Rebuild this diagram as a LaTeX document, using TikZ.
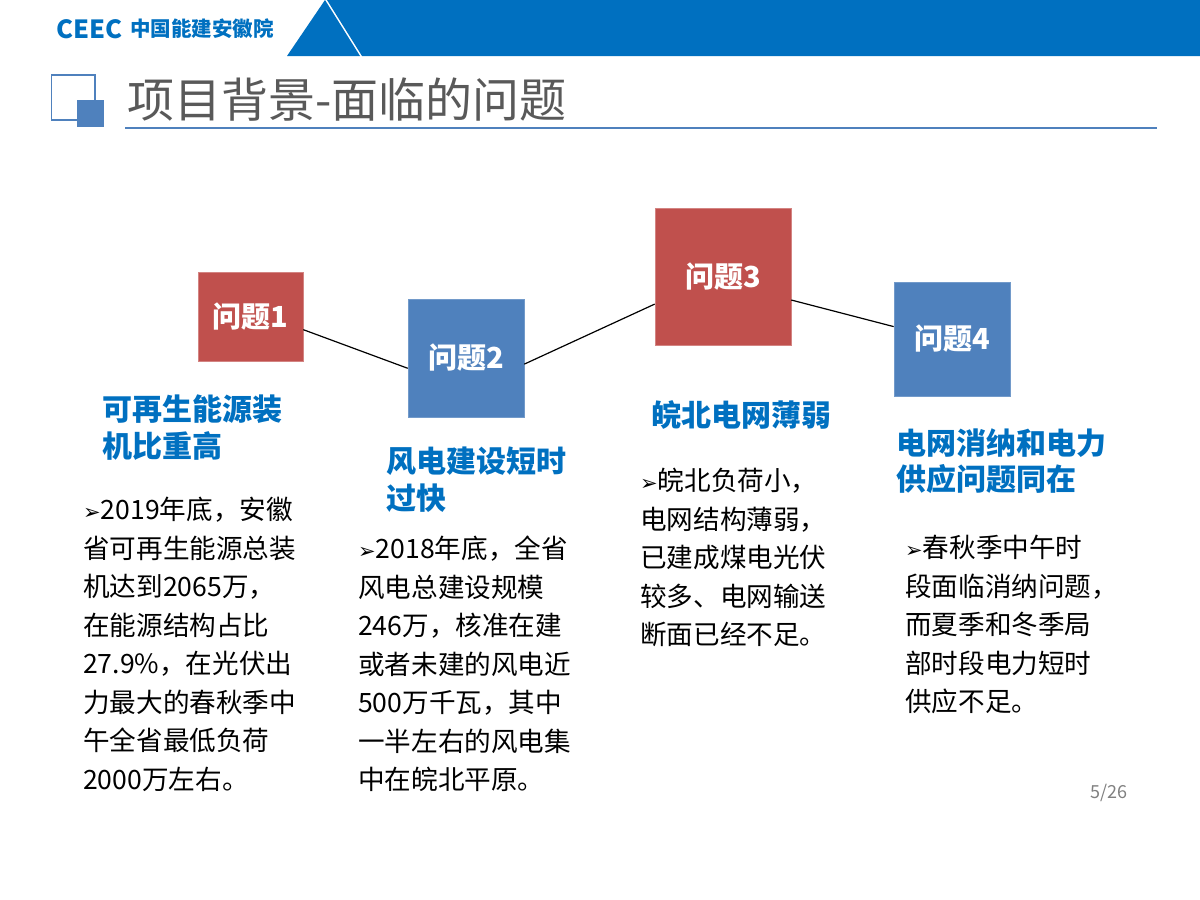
\documentclass[tikz,border=0pt]{standalone}
\usepackage{fontspec}
\setmainfont{Noto Sans CJK SC}
\newfontfamily\symfont{DejaVu Sans}
\definecolor{ceecblue}{HTML}{0070C0}
\definecolor{boxred}{HTML}{C0504D}
\definecolor{boxblue}{HTML}{4F81BD}
\definecolor{titlegray}{HTML}{595959}
\newcommand{\tip}{{\symfont\fontsize{21}{21}\selectfont ➢}}
\tikzset{
	problem_red/.style = {shape=rectangle, fill=boxred, draw=boxred!70!white, line width=0.6pt, text=white, inner sep=0pt, font=\fontsize{29}{29}\selectfont\bfseries},
	problem_blue/.style = {shape=rectangle, fill=boxblue, draw=boxblue!80!white, line width=0.6pt, text=white, inner sep=0pt, font=\fontsize{29}{29}\selectfont\bfseries},
	heading/.style = {anchor=north west, inner sep=0pt, align=left, text=ceecblue, font=\fontsize{30}{36.5}\selectfont\bfseries},
	body/.style = {anchor=north west, inner sep=0pt, align=left, text=black, font=\fontsize{26.6}{38.5}\selectfont},
	link/.style = {draw=black, line width=1.2pt}
}
\begin{document}
\begin{tikzpicture}[x=1pt, y=-1pt]
	\useasboundingbox (0,0) rectangle (1200,900);
	% header band
	\fill[ceecblue] (287,56) -- (325,0) -- (360,56) -- cycle;
	\fill[ceecblue] (327,0) -- (1200,0) -- (1200,56) -- (362,56) -- cycle;
	\node[anchor=west, inner sep=0pt, text=ceecblue, font=\fontsize{25}{25}\selectfont\bfseries, xscale=1.02] (logo) at (56,29) {CEEC};
	\node[anchor=west, inner sep=0pt, text=ceecblue, font=\fontsize{20.5}{20.5}\selectfont\bfseries] (company) at (130,29) {中国能建安徽院};
	% title
	\draw[boxblue, line width=1.6pt] (51.5,75) rectangle (95,120);
	\fill[boxblue] (77,100) rectangle (104,127);
	\node[anchor=west, inner sep=0pt, text=titlegray, font=\fontsize{47}{47}\selectfont] (title) at (127,100) {项目背景-面临的问题};
	\draw[boxblue, line width=1.8pt] (125,128) -- (1157,128);
	% all the boxes
	\node[problem_red, minimum width=105pt, minimum height=89pt] (p1) at (250.5,316.5) {问题1};
	\node[problem_blue, minimum width=116pt, minimum height=118pt] (p2) at (466,358) {问题2};
	\node[problem_red, minimum width=136pt, minimum height=137pt] (p3) at (723,276.5) {问题3};
	\node[problem_blue, minimum width=116pt, minimum height=114pt] (p4) at (952,339) {问题4};
	\draw[link] (p1.-14.4) -- (p2.190.7);
	\draw[link] (p2.-6.9) -- (p3.202);
	\draw[link] (p3.-19) -- (p4.168.3);
	% headings
	\node[heading] (h1) at (102,395) {可再生能源装\\机比重高};
	\node[heading] (h2) at (386,447) {风电建设短时\\过快};
	\node[heading] (h3) at (651,400) {皖北电网薄弱};
	\node[heading] (h4) at (896,428) {电网消纳和电力\\供应问题同在};
	% body text
	\node[body] (b1) at (83,497) {\tip 2019年底，安徽\\省可再生能源总装\\机达到2065万，\\在能源结构占比\\27.9\%，在光伏出\\力最大的春秋季中\\午全省最低负荷\\2000万左右。};
	\node[body] (b2) at (358,536) {\tip 2018年底，全省\\风电总建设规模\\246万，核准在建\\或者未建的风电近\\500万千瓦，其中\\一半左右的风电集\\中在皖北平原。};
	\node[body] (b3) at (640,468) {\tip 皖北负荷小，\\电网结构薄弱，\\已建成煤电光伏\\较多、电网输送\\断面已经不足。};
	\node[body] (b4) at (905,535) {\tip 春秋季中午时\\段面临消纳问题，\\而夏季和冬季局\\部时段电力短时\\供应不足。};
	\node[inner sep=0pt, text=gray, font=\fontsize{18}{18}\selectfont] (page) at (1109,793) {5/26};
\end{tikzpicture}
\end{document}
